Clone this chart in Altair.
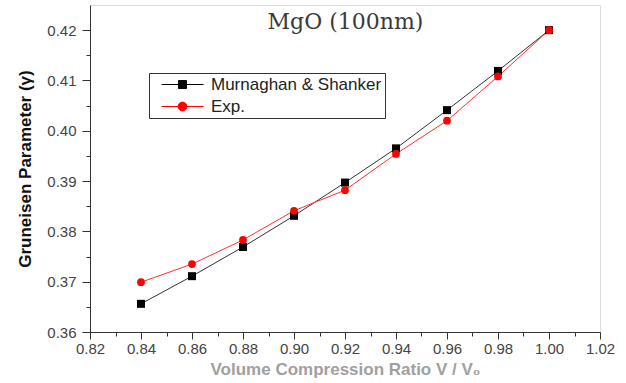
import altair as alt
import pandas as pd

# Volume compression ratio V/V0 and Grüneisen parameter for 100 nm MgO
ratio = [0.84, 0.86, 0.88, 0.90, 0.92, 0.94, 0.96, 0.98, 1.00]
murnaghan_shanker = [0.3656, 0.3711, 0.3769, 0.3831, 0.3897, 0.3965, 0.4041, 0.4119, 0.4200]
experimental = [0.3699, 0.3735, 0.3783, 0.3841, 0.3882, 0.3954, 0.4020, 0.4108, 0.4200]

series_names = ["Murnaghan & Shanker", "Exp."]
series_colors = ["#000000", "#ff0000"]
line_colors = ["#333333", "#ff3030"]

x_major = [0.82, 0.84, 0.86, 0.88, 0.90, 0.92, 0.94, 0.96, 0.98, 1.00, 1.02]
x_minor = [0.83, 0.85, 0.87, 0.89, 0.91, 0.93, 0.95, 0.97, 0.99, 1.01]
y_major = [0.36, 0.37, 0.38, 0.39, 0.40, 0.41, 0.42]
y_minor = [0.365, 0.375, 0.385, 0.395, 0.405, 0.415]

rows = []
for name, values in zip(series_names, [murnaghan_shanker, experimental]):
    for r, g in zip(ratio, values):
        rows.append({"ratio": r, "gamma": g, "series": name})
df = pd.DataFrame(rows)

label_font = "Liberation Sans"
x_scale = alt.Scale(domain=[0.82, 1.02], nice=False, zero=False)
y_scale = alt.Scale(domain=[0.36, 0.425], nice=False, zero=False)

main_x_axis = alt.Axis(
    orient="bottom", values=x_major, format=".2f", tickSize=7, grid=False, labelFlush=False,
    labelFont=label_font, labelFontSize=15, labelColor="#444444", labelPadding=2,
    domainColor="#333333", tickColor="#333333",
    title="Volume Compression Ratio V / V₀", titleFont=label_font, titleFontSize=17,
    titleFontWeight="bold", titleColor="#a0a0a0", titlePadding=5,
)
main_y_axis = alt.Axis(
    orient="left", values=y_major, format=".2f", tickSize=8, grid=False, labelFlush=False,
    labelFont=label_font, labelFontSize=15, labelColor="#444444", labelPadding=6,
    domainColor="#333333", tickColor="#333333",
    title="Gruneisen Parameter (γ)", titleFont=label_font, titleFontSize=17,
    titleFontWeight="bold", titleColor="#111111", titlePadding=12,
)
minor_x_axis = alt.Axis(orient="bottom", values=x_minor, tickSize=4, labels=False,
                        domain=False, grid=False, title=None, tickColor="#333333")
minor_y_axis = alt.Axis(orient="left", values=y_minor, tickSize=4, labels=False,
                        domain=False, grid=False, title=None, tickColor="#333333")
# heading drawn as the title of a bare top axis so it sits inside the frame
heading_axis = alt.Axis(
    orient="top", domain=False, ticks=False, labels=False, grid=False,
    title="MgO (100nm)", titleFont="DejaVu Serif", titleFontSize=22, titleFontWeight="normal",
    titleColor="#3a3a3a", titleBaseline="alphabetic", titleY=23, titleX=255, titleAlign="center",
)

base = alt.Chart(df)
xq = lambda axis: alt.X("ratio:Q", scale=x_scale, axis=axis)
yq = lambda axis: alt.Y("gamma:Q", scale=y_scale, axis=axis)

line_ms = base.transform_filter(alt.datum.series == series_names[0]).mark_line(
    strokeWidth=1, color=line_colors[0]
).encode(x=xq(main_x_axis), y=yq(main_y_axis))

line_exp = base.transform_filter(alt.datum.series == series_names[1]).mark_line(
    strokeWidth=1, color=line_colors[1]
).encode(x=xq(None), y=yq(None))

squares = base.transform_filter(alt.datum.series == series_names[0]).mark_square(
    size=64, opacity=1, color=series_colors[0]
).encode(x=xq(minor_x_axis), y=yq(minor_y_axis))

circles = base.transform_filter(alt.datum.series == series_names[1]).mark_circle(
    size=60, opacity=1, color=series_colors[1]
).encode(x=xq(None), y=yq(None))

# legend symbols: a short line with the series marker in the middle
legend_paths = [
    "M0.125,0L5.375,0M2.25,-0.5L3.25,-0.5L3.25,0.5L2.25,0.5Z",
    "M0.125,0L2.2,0A0.55,0.55,0,1,1,3.3,0A0.55,0.55,0,1,1,2.2,0M3.3,0L5.375,0",
]
series_legend = alt.Legend(
    title=None, orient="none", legendX=59, legendY=68,
    strokeColor="#333333", fillColor="#ffffff", padding=3, rowPadding=4,
    symbolSize=256, symbolStrokeWidth=1, symbolOpacity=1, labelLimit=400,
    labelFont=label_font, labelFontSize=17, labelColor="#222222", labelOffset=42,
)
color_scale = alt.Scale(domain=series_names, range=series_colors)
legend_layer = base.mark_point(filled=True, opacity=0).encode(
    x=xq(heading_axis), y=yq(None),
    fill=alt.Fill("series:N", scale=color_scale, legend=series_legend),
    stroke=alt.Stroke("series:N", scale=color_scale, legend=series_legend),
    shape=alt.Shape("series:N", scale=alt.Scale(domain=series_names, range=legend_paths),
                    legend=series_legend),
)

chart = alt.layer(line_ms, line_exp, squares, circles, legend_layer).resolve_axis(
    x="independent", y="independent"
).properties(
    width=510, height=327,
    padding={"left": 90, "top": 5, "right": 26, "bottom": 51},
    autosize=alt.AutoSizeParams(type="none"),
).configure_view(stroke=None).configure(background="#ffffff")

chart.save("out.html", embed_options={"renderer": "svg", "actions": False})
